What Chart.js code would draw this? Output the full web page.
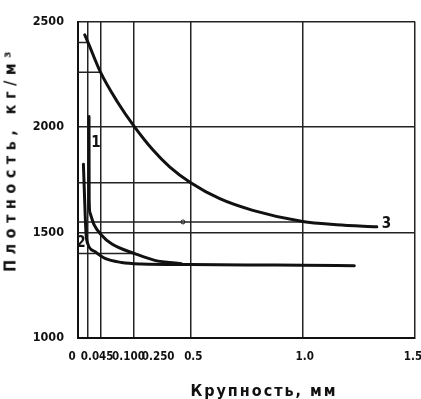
<!DOCTYPE html>
<html>
<head>
<meta charset="utf-8">
<script src="https://cdn.jsdelivr.net/npm/chart.js@4"></script>
<style>
  html, body { margin: 0; padding: 0; background: #fff; }
  #wrap { position: relative; width: 421px; height: 399px; }
  .axis-title {
    position: absolute;
    font-family: "DejaVu Sans Condensed", "DejaVu Sans", sans-serif;
    font-weight: bold;
    color: #111;
    white-space: nowrap;
  }
  #ytitle { left: 10px; top: 159px; font-size: 16px; letter-spacing: 5.5px; transform: translate(-50%, -50%) rotate(-90deg); }
  #xtitle { left: 264px; top: 390px; font-size: 16px; letter-spacing: 2px; transform: translate(-50%, -50%); }
</style>
</head>
<body>
<div id="wrap">
  <canvas id="chart"></canvas>
  <div id="ytitle" class="axis-title">Плотность, кг/м³</div>
  <div id="xtitle" class="axis-title">Крупность, мм</div>
</div>
<script>
const xTicks = [0, 0.045, 0.1, 0.25, 0.5, 1.0, 1.5];
const xTickLabels = ["0", "0.045", "0.100", "0.250", "0.5", "1.0", "1.5"];
const yTicks = [1000, 1500, 2000, 2500];

// curve 1
const curve1X = [0.0490, 0.0492, 0.0494, 0.0497, 0.053, 0.072, 0.102, 0.151, 0.253, 0.342, 0.46];
const curve1Y = [2050, 1930, 1780, 1660, 1595, 1536, 1491, 1445, 1400, 1368, 1352];
// curve 2
const curve2X = [0.024, 0.028, 0.032, 0.036, 0.044, 0.076, 0.12, 0.194, 0.283, 0.5, 0.8, 1.0, 1.23];
const curve2Y = [1824, 1705, 1582, 1491, 1445, 1409, 1377, 1358, 1351, 1348, 1346, 1345, 1342];
// curve 3
const curve3X = [0.030, 0.045, 0.1, 0.175, 0.25, 0.333, 0.409, 0.5, 0.631, 0.778, 1.0, 1.15, 1.33];
const curve3Y = [2437, 2400, 2260, 2120, 2003, 1892, 1810, 1737, 1660, 1605, 1552, 1537, 1527];

// short reading lines from the y axis to a curve point
const refLevels = [2400, 2259, 1736, 1550, 1400];
const refEnds = [0.045, 0.1, 0.5, 1.0, 0.25];

const curveNames = ["1", "2", "3"];
const curveNameX = [0.08, 0.013, 1.373];
const curveNameY = [1925, 1450, 1541];

const markX = [0.467];
const markY = [1550];

// crowded x labels are nudged sideways like in the original drawing
const xLabelShift = [-6, 9, 28, 24, 3, 2, -2];

const INK = "#111";
const FONT = "'DejaVu Sans Condensed', 'DejaVu Sans', sans-serif";

function points(xs, ys) {
  return xs.map((x, i) => ({ x, y: ys[i] }));
}

function curve(xs, ys) {
  return {
    data: points(xs, ys),
    borderColor: INK,
    borderWidth: 3,
    borderCapStyle: "round",
    pointRadius: 0,
    cubicInterpolationMode: "monotone",
    fill: false,
  };
}

const datasets = [
  curve(curve1X, curve1Y),
  curve(curve2X, curve2Y),
  curve(curve3X, curve3Y),
  ...refLevels.map((level, i) => ({
    data: [{ x: 0, y: level }, { x: refEnds[i], y: level }],
    borderColor: "#222",
    borderWidth: 1.5,
    pointRadius: 0,
    tension: 0,
  })),
  {
    type: "scatter",
    data: points(markX, markY),
    pointRadius: 2,
    pointBorderWidth: 1,
    pointBorderColor: INK,
    pointBackgroundColor: "#fff",
  },
];

const extraText = {
  id: "extraText",
  afterDraw(chart) {
    const { ctx, scales } = chart;
    ctx.save();
    ctx.fillStyle = INK;
    ctx.textBaseline = "middle";
    ctx.textAlign = "center";
    ctx.font = `bold 11.5px ${FONT}`;
    xTicks.forEach((v, i) => {
      ctx.fillText(xTickLabels[i], scales.x.getPixelForValue(v) + xLabelShift[i], chart.chartArea.bottom + 19);
    });
    ctx.font = `bold 15px ${FONT}`;
    curveNames.forEach((name, i) => {
      ctx.fillText(name, scales.x.getPixelForValue(curveNameX[i]), scales.y.getPixelForValue(curveNameY[i]));
    });
    ctx.restore();
  },
};

new Chart(document.getElementById("chart"), {
  type: "line",
  data: { datasets },
  options: {
    responsive: true,
    maintainAspectRatio: false,
    animation: false,
    layout: { padding: { top: 8, right: 6, left: 0, bottom: 0 } },
    plugins: { legend: { display: false }, tooltip: { enabled: false } },
    scales: {
      x: {
        type: "linear",
        min: 0,
        max: 1.5,
        afterBuildTicks(scale) { scale.ticks = xTicks.map((value) => ({ value })); },
        afterFit(scale) { scale.height = 61; },
        ticks: { display: false },
        grid: { color: "#222", lineWidth: 1.5, drawTicks: false },
        border: { color: INK, width: 2 },
      },
      y: {
        type: "linear",
        min: 1000,
        max: 2500,
        afterBuildTicks(scale) { scale.ticks = yTicks.map((value) => ({ value })); },
        afterFit(scale) { scale.width = 78; },
        ticks: {
          color: INK,
          padding: 14,
          font: { family: FONT, size: 12.5, weight: "bold" },
          callback: (value) => String(value),
        },
        grid: { color: "#222", lineWidth: 1.5, drawTicks: false },
        border: { color: INK, width: 2 },
      },
    },
  },
  plugins: [extraText],
});
</script>
</body>
</html>
